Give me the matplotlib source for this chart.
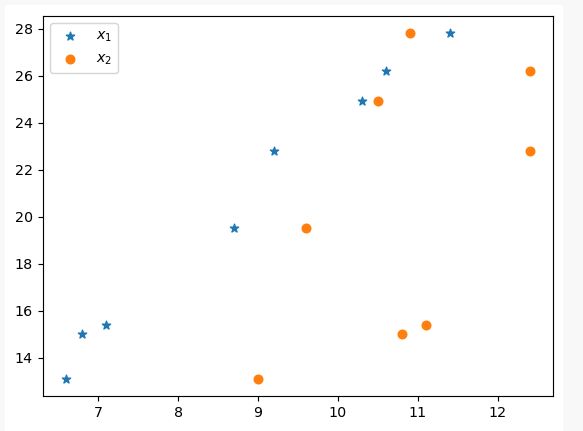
import matplotlib
matplotlib.use("Agg")
import matplotlib.pyplot as plt
from matplotlib.patches import Rectangle

y = [13.1, 15.0, 15.4, 19.5, 22.8, 24.9, 26.2, 27.8]
x1 = [6.6, 6.8, 7.1, 8.7, 9.2, 10.3, 10.6, 11.4]
x2 = [9.0, 10.8, 11.1, 9.6, 12.4, 10.5, 12.4, 10.9]
labels = ["$x_1$", "$x_2$"]

W, H = 583, 431
dpi = 103
fig = plt.figure(figsize=(W / dpi, H / dpi), dpi=dpi, facecolor="#f8f8f8")
fig.patches.append(Rectangle((5 / W, 0), 558 / W, 426 / H, transform=fig.transFigure,
                             facecolor="white", edgecolor="none", zorder=-10))
ax = fig.add_axes([43 / W, 35 / H, 510 / W, 380 / H])
ax.scatter(x1, y, marker="*", label=labels[0])
ax.scatter(x2, y, marker="o", label=labels[1])
ax.legend(loc="upper left")
fig.savefig("out.png", dpi=dpi, facecolor=fig.get_facecolor())
